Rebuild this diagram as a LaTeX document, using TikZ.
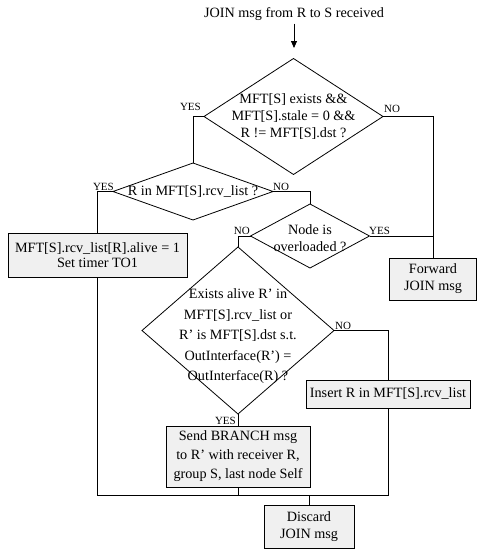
\documentclass[tikz,border=0pt]{standalone}
\usepackage{fontspec}
\setmainfont{Liberation Serif}
\usetikzlibrary{shapes.geometric,arrows.meta}
\begin{document}
\begin{tikzpicture}[x=1pt,y=-1pt,
  every node/.style={font=\fontsize{14.2}{17}\selectfont},
  dec/.style={diamond,draw,line width=0.8pt,inner sep=0pt,outer sep=0pt},
  proc/.style={draw,fill=gray!12,line width=0.8pt,inner sep=0pt,outer sep=0pt,align=center},
  lab/.style={font=\fontsize{11}{13}\selectfont,inner sep=0pt},
  conn/.style={line width=0.8pt},
  arr/.style={conn,-{Triangle[length=7pt,width=6pt]}}
]
\useasboundingbox (0,0) rectangle (477,552);
% title and entry arrow
\node[anchor=base] (t) at (294,17) {JOIN msg from R to S received};
\coordinate (ae) at (294,48);
\draw[arr] (t.south) -- (ae);
% decisions
\node[dec,minimum width=179pt,minimum height=116pt,
  label={[align=center]center:{MFT[S] exists \&\&\\MFT[S].stale = 0 \&\&\\R != MFT[S].dst ?}}] (d1) at (293.5,116.5) {};
\node[dec,minimum width=160pt,minimum height=57pt,
  label={[align=center]center:{R in MFT[S].rcv\_list ?}}] (d2) at (193,191.5) {};
\node[dec,minimum width=119pt,minimum height=64pt,
  label={[align=center,yshift=-2pt]center:{Node is\\overloaded ?}}] (d3) at (310,236) {};
\node[dec,minimum width=192pt,minimum height=167pt,
  label={[align=center,yshift=-6pt,font=\fontsize{14.2}{20.5}\selectfont]center:{Exists alive R' in\\MFT[S].rcv\_list or\\R' is MFT[S].dst s.t.\\OutInterface(R') =\\OutInterface(R) ?}}] (d4) at (238,330.5) {};
% processes
\node[proc,minimum width=179pt,minimum height=44pt,font=\fontsize{14.2}{15}\selectfont] (b1) at (97.5,255) {MFT[S].rcv\_list[R].alive = 1\\Set timer TO1};
\node[proc,minimum width=87pt,minimum height=42pt] (fwd) at (433,279) {Forward\\JOIN msg};
\node[proc,minimum width=164pt,minimum height=28pt] (ins) at (388,394) {Insert R in MFT[S].rcv\_list};
\node[proc,minimum width=144pt,minimum height=61pt,font=\fontsize{14.2}{19}\selectfont] (send) at (238,456.5) {Send BRANCH msg\\to R' with receiver R,\\group S, last node Self};
\node[proc,minimum width=90pt,minimum height=43pt] (disc) at (309,526.5) {Discard\\JOIN msg};
% connectors
\draw[conn] (d1.west) -| (d2.north);
\draw[conn] (d1.east) -| (fwd.north);
\draw[conn] (d2.west) -| (b1.north);
\draw[conn] (d2.east) -| (d3.north);
\draw[conn] (d3.east) -- (d3.east -| fwd.north);
\draw[conn] (d3.west) -| (d4.north);
\draw[conn] (d4.east) -| (ins.north);
\draw[conn] (d4.south) -- (send.north);
\coordinate (jn) at (309,495);
\draw[conn] (b1.south) |- (jn);
\draw[conn] (ins.south) |- (jn);
\draw[conn] (send.south) |- (jn);
\draw[conn] (jn) -- (disc.north);
% branch labels
\node[lab,anchor=base east] (y1) at (201,110) {YES};
\node[lab,anchor=base west] (n1) at (384,112) {NO};
\node[lab,anchor=base east] (y2) at (114,190) {YES};
\node[lab,anchor=base west] (n2) at (273,190) {NO};
\node[lab,anchor=base east] (n3) at (250,234) {NO};
\node[lab,anchor=base west] (y3) at (369,234) {YES};
\node[lab,anchor=base west] (n4) at (335,329) {NO};
\node[lab,anchor=base east] (y4) at (236,424) {YES};
\end{tikzpicture}
\end{document}
